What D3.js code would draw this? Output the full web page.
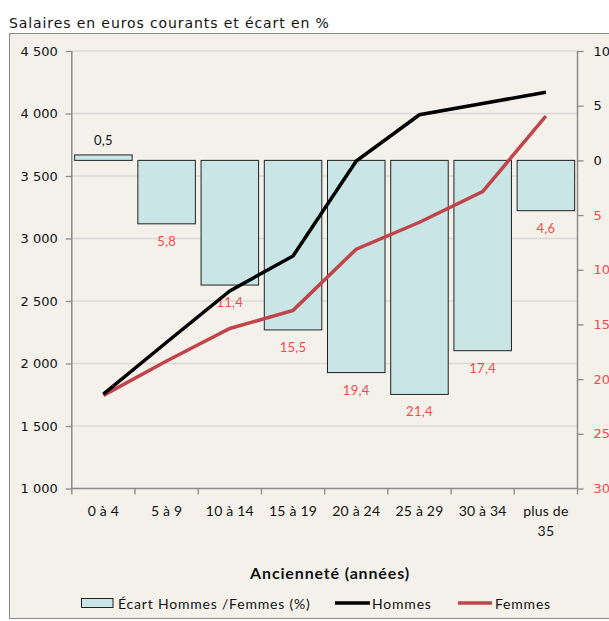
<!DOCTYPE html>
<html>
<head>
<meta charset="utf-8">
<script src="https://cdn.jsdelivr.net/npm/d3@7"></script>
<style>
  body { margin: 0; background: #fff; }
  svg { display: block; }
</style>
</head>
<body>
<div class="chart"></div>
<script>
const categories = ['0 à 4', '5 à 9', '10 à 14', '15 à 19', '20 à 24', '25 à 29', '30 à 34', 'plus de 35'];
const hommes = [1755, 2170, 2580, 2860, 3620, 3990, 4080, 4170];
const femmes = [1745, 2020, 2280, 2425, 2915, 3130, 3375, 3980];
// écart en %, négatif = affiché vers le bas en rouge
const ecart = [0.5, -5.8, -11.4, -15.5, -19.4, -21.4, -17.4, -4.6];

const leftTicks = [1000, 1500, 2000, 2500, 3000, 3500, 4000, 4500];
const leftTickLabels = ['1 000', '1 500', '2 000', '2 500', '3 000', '3 500', '4 000', '4 500'];
const rightTicks = [10, 5, 0, -5, -10, -15, -20, -25, -30];

const W = 609, H = 621;
const plot = {left: 71.8, right: 577.5, top: 51, bottom: 488.5};
const red = '#f24b4b';

const svg = d3.select('.chart').append('svg')
    .attr('width', W)
    .attr('height', H);

// title
svg.append('text')
    .attr('x', 9).attr('y', 28)
    .attr('font-family', 'DejaVu Sans')
    .attr('font-size', '14px')
    .attr('letter-spacing', '0.9px')
    .attr('fill', '#111')
    .text('Salaires en euros courants et écart en %');

// frame
svg.append('rect')
    .attr('x', 9.5).attr('y', 33.5)
    .attr('width', 620).attr('height', 585)
    .attr('fill', '#f4f1eb')
    .attr('stroke', '#8a8a8a');

const x = d3.scaleBand()
    .domain(categories)
    .range([plot.left, plot.right])
    .paddingInner(0.09)
    .paddingOuter(0.045);

const yL = d3.scaleLinear().domain([1000, 4500]).range([plot.bottom, plot.top]);
const yR = d3.scaleLinear().domain([-30, 10]).range([plot.bottom, plot.top]);

// gridlines
svg.append('g')
    .selectAll('line')
    .data(leftTicks.slice(1))
    .enter().append('line')
    .attr('x1', plot.left).attr('x2', plot.right)
    .attr('y1', d => yL(d)).attr('y2', d => yL(d))
    .attr('stroke', '#dcdad6')
    .attr('stroke-width', 1.3);

// bars
svg.append('g')
    .selectAll('rect')
    .data(ecart)
    .enter().append('rect')
    .attr('x', (d, i) => x(categories[i]))
    .attr('width', x.bandwidth())
    .attr('y', d => yR(Math.max(0, d)))
    .attr('height', d => Math.abs(yR(d) - yR(0)))
    .attr('fill', '#c9e5e5')
    .attr('stroke', '#222')
    .attr('stroke-width', 1);

// bar labels
svg.append('g')
    .selectAll('text')
    .data(ecart)
    .enter().append('text')
    .attr('x', (d, i) => x(categories[i]) + x.bandwidth() / 2)
    .attr('y', d => d >= 0 ? yR(d) - 10 : yR(d) + 22)
    .attr('text-anchor', 'middle')
    .attr('font-family', 'Lato')
    .attr('font-size', '13px')
    .attr('letter-spacing', '0.3px')
    .attr('fill', d => d >= 0 ? '#111' : red)
    .text(d => Math.abs(d).toFixed(1).replace('.', ','));

// lines
const cx = i => x(categories[i]) + x.bandwidth() / 2;
const lineH = d3.line().x((d, i) => cx(i)).y(d => yL(d));

svg.append('path')
    .datum(femmes)
    .attr('d', lineH)
    .attr('fill', 'none')
    .attr('stroke', '#c0454a')
    .attr('stroke-width', 3.5);

svg.append('path')
    .datum(hommes)
    .attr('d', lineH)
    .attr('fill', 'none')
    .attr('stroke', '#000')
    .attr('stroke-width', 3.5);

// axes
const leftAxis = d3.axisLeft(yL)
    .tickValues(leftTicks)
    .tickFormat((d, i) => leftTickLabels[i])
    .tickSize(6)
    .tickPadding(8);

const gL = svg.append('g')
    .attr('transform', `translate(${plot.left},0)`)
    .call(leftAxis);

const rightAxis = d3.axisRight(yR)
    .tickValues(rightTicks)
    .tickFormat(d => Math.abs(d))
    .tickSize(6)
    .tickPadding(10);

const gR = svg.append('g')
    .attr('transform', `translate(${plot.right},0)`)
    .call(rightAxis);

const bottomAxis = d3.axisBottom(x).tickSize(0).tickFormat('');
const gB = svg.append('g')
    .attr('transform', `translate(0,${plot.bottom})`)
    .call(bottomAxis);

// category boundary ticks
gB.selectAll('.bnd')
    .data(d3.range(categories.length + 1))
    .enter().append('line')
    .attr('x1', i => plot.left + i * (plot.right - plot.left) / categories.length)
    .attr('x2', i => plot.left + i * (plot.right - plot.left) / categories.length)
    .attr('y1', 0).attr('y2', 6)
    .attr('stroke', '#8a8a8a')
    .attr('stroke-width', 1.3);

// category labels
gB.selectAll('.lab')
    .data(categories)
    .enter().append('text')
    .attr('x', d => x(d) + x.bandwidth() / 2)
    .attr('y', 27.5)
    .attr('text-anchor', 'middle')
    .attr('font-family', 'Lato')
    .attr('font-size', '14px')
    .attr('letter-spacing', '0.2px')
    .attr('fill', '#111')
    .each(function(d) {
        const parts = d === 'plus de 35' ? ['plus de', '35'] : [d];
        parts.forEach((p, k) => {
            d3.select(this).append('tspan')
                .attr('x', x(d) + x.bandwidth() / 2)
                .attr('dy', k === 0 ? 0 : 20)
                .text(p);
        });
    });

[gL, gR, gB].forEach(g => {
    g.selectAll('.domain').attr('stroke', '#8a8a8a').attr('stroke-width', 1.5);
    g.selectAll('.tick line').attr('stroke', '#8a8a8a').attr('stroke-width', 1.3);
});
gB.select('.domain').attr('d', `M${plot.left},0H${plot.right}`);
gL.select('.domain').attr('d', `M0,${plot.bottom}V${plot.top}`);
gR.select('.domain').attr('d', `M0,${plot.bottom}V${plot.top}`);

gL.selectAll('.tick text')
    .attr('font-family', 'DejaVu Sans')
    .attr('font-size', '13px')
    .attr('fill', '#111');

gR.selectAll('.tick text')
    .attr('font-family', 'DejaVu Sans')
    .attr('font-size', '13px')
    .attr('fill', d => d < 0 ? red : '#111');

// x title
svg.append('text')
    .attr('x', 330).attr('y', 579.3)
    .attr('text-anchor', 'middle')
    .attr('font-family', 'Lato')
    .attr('font-weight', 'bold')
    .attr('font-size', '16px')
    .attr('letter-spacing', '0.85px')
    .attr('fill', '#111')
    .text('Ancienneté (années)');

// legend
const lg = svg.append('g')
    .attr('font-family', 'Lato')
    .attr('font-size', '14px')
    .attr('letter-spacing', '0.8px')
    .attr('fill', '#111');
lg.append('rect')
    .attr('x', 81.5).attr('y', 598.5)
    .attr('width', 31.5).attr('height', 9)
    .attr('fill', '#c9e5e5')
    .attr('stroke', '#222');
lg.append('text')
    .attr('x', 118).attr('y', 609)
    .text('Écart Hommes /Femmes (%)');
lg.append('line')
    .attr('x1', 335).attr('x2', 370).attr('y1', 603).attr('y2', 603)
    .attr('stroke', '#000').attr('stroke-width', 3.5);
lg.append('text')
    .attr('x', 372).attr('y', 609)
    .text('Hommes');
lg.append('line')
    .attr('x1', 458).attr('x2', 492).attr('y1', 603).attr('y2', 603)
    .attr('stroke', '#c0454a').attr('stroke-width', 3.5);
lg.append('text')
    .attr('x', 495).attr('y', 609)
    .text('Femmes');
</script>
</body>
</html>
